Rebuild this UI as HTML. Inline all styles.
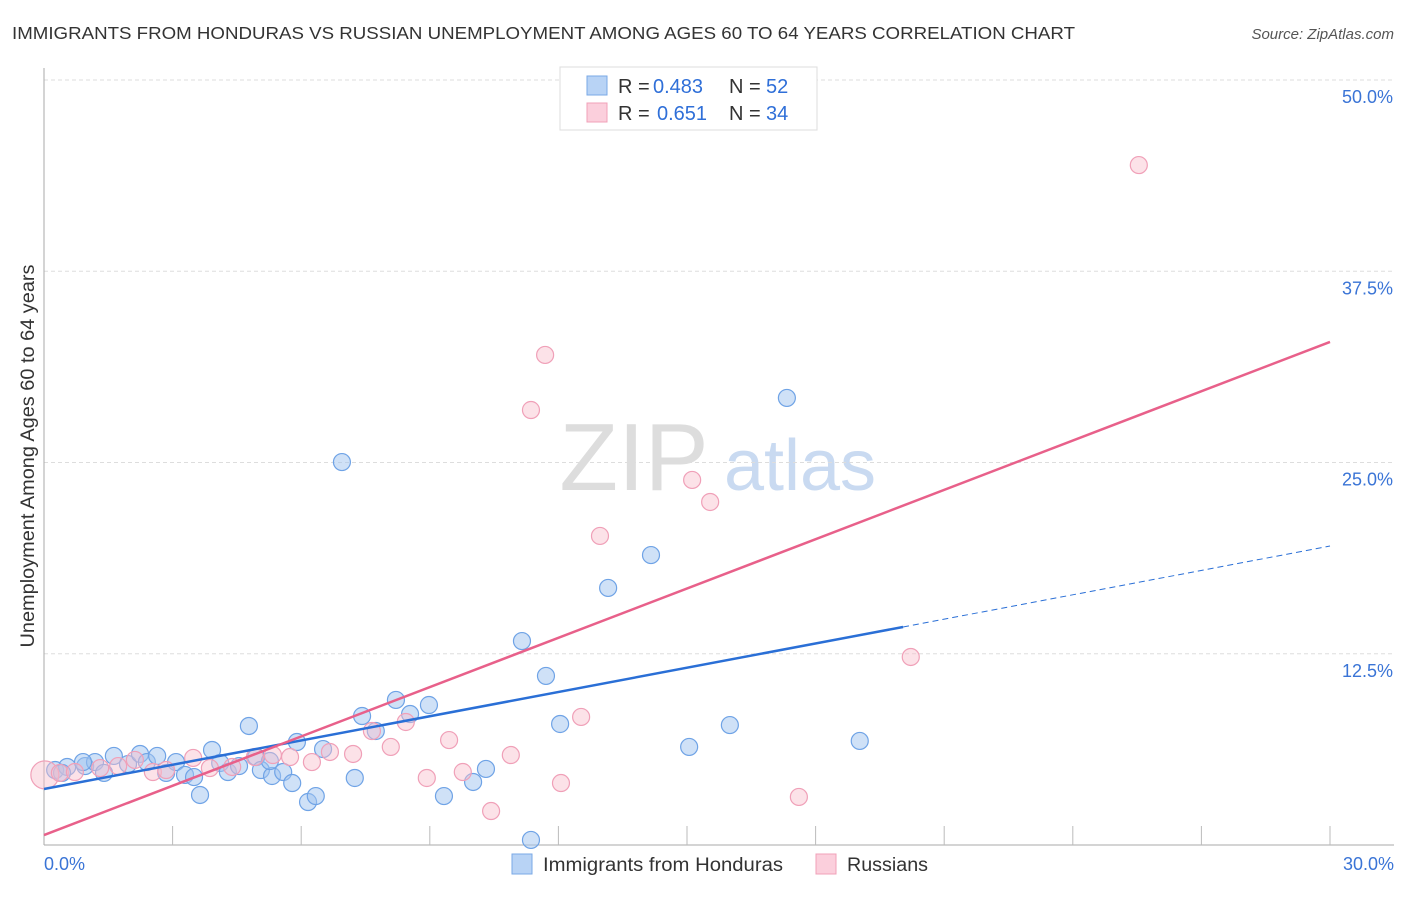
<!DOCTYPE html>
<html><head><meta charset="utf-8"><style>
body{margin:0;background:#fff;font-family:"Liberation Sans",sans-serif;}
svg text{font-family:"Liberation Sans",sans-serif;}
</style></head><body>
<svg id="chart" width="1406" height="892" xmlns="http://www.w3.org/2000/svg">
<text x="12" y="39" font-size="17.5" fill="#333" textLength="1063" lengthAdjust="spacingAndGlyphs">IMMIGRANTS FROM HONDURAS VS RUSSIAN UNEMPLOYMENT AMONG AGES 60 TO 64 YEARS CORRELATION CHART</text>
<text x="1394" y="39" font-size="15" fill="#555" text-anchor="end" font-style="italic">Source: ZipAtlas.com</text>
<text transform="translate(34,456) rotate(-90)" font-size="19" fill="#333" text-anchor="middle" textLength="383" lengthAdjust="spacingAndGlyphs">Unemployment Among Ages 60 to 64 years</text>
<g>
<text x="634" y="490" font-size="96" fill="#ddd" font-family="Liberation Serif" text-anchor="middle">ZIP</text>
<text x="800" y="490" font-size="72" fill="#c9daf1" text-anchor="middle">atlas</text>
</g>
<g id="grid"></g><g id="axes"></g><g id="pts"></g><g id="lines"></g>
<g>
<rect x="560" y="67" width="257" height="63" fill="#fff" stroke="#ddd"/>
<rect x="587" y="76" width="20" height="19" fill="#b8d3f5" stroke="#7aa8e6"/>
<rect x="587" y="103" width="20" height="19" fill="#fbcfdc" stroke="#f0a0b8"/>
<text x="618" y="93" font-size="20" fill="#333">R =</text><text x="653" y="93" font-size="20" fill="#2f6fd8">0.483</text>
<text x="729" y="93" font-size="20" fill="#333">N =</text><text x="766" y="93" font-size="20" fill="#2f6fd8">52</text>
<text x="618" y="120" font-size="20" fill="#333">R =</text><text x="657" y="120" font-size="20" fill="#2f6fd8">0.651</text>
<text x="729" y="120" font-size="20" fill="#333">N =</text><text x="766" y="120" font-size="20" fill="#2f6fd8">34</text>
</g>
<g>
<rect x="512" y="854" width="20" height="20" fill="#b8d3f5" stroke="#7aa8e6"/>
<text x="543" y="871" font-size="19" fill="#333" textLength="240" lengthAdjust="spacingAndGlyphs">Immigrants from Honduras</text>
<rect x="816" y="854" width="20" height="20" fill="#fbcfdc" stroke="#f0a0b8"/>
<text x="847" y="871" font-size="19" fill="#333" textLength="81" lengthAdjust="spacingAndGlyphs">Russians</text>
</g>
</svg>
<script>
const yTicks=[12.5,25,37.5,50];
const yTickLabels=["12.5%","25.0%","37.5%","50.0%"];
const xTickLabels=["0.0%","30.0%"];
const blueX=[0.26,0.54,0.96,1.19,1.40,1.63,1.96,2.24,2.40,2.64,2.85,3.08,3.29,3.50,3.64,3.92,4.11,4.29,4.55,4.78,4.95,5.06,5.32,5.58,5.79,5.90,6.16,6.34,6.51,6.95,7.25,7.42,7.74,8.21,8.54,8.98,9.33,10.01,10.31,11.15,11.36,11.71,12.04,13.16,14.16,15.05,16.00,17.33,19.03,0.91,0.42,5.27];
const blueY=[4.90,5.10,5.16,5.42,4.71,5.82,5.29,5.95,5.42,5.82,4.71,5.42,4.58,4.44,3.27,6.21,5.36,4.77,5.16,7.78,5.75,4.90,4.51,4.77,4.05,6.73,2.81,3.20,6.27,25.03,4.38,8.43,7.45,9.48,8.56,9.15,3.20,4.12,4.97,13.33,0.33,11.05,7.91,16.80,18.95,6.41,7.84,29.22,6.80,5.42,4.71,5.49];
const pinkX=[0.02,0.37,0.72,1.31,1.73,2.12,2.54,2.85,3.48,3.87,4.39,4.92,5.34,5.74,6.25,6.67,7.21,7.65,8.09,8.44,8.93,9.45,9.77,10.43,10.89,11.36,11.69,12.06,12.53,12.97,15.12,15.54,17.61,20.22,25.54];
const pinkY=[4.58,4.71,4.77,5.03,5.16,5.56,4.77,4.90,5.69,5.03,5.10,5.75,5.88,5.75,5.42,6.08,5.95,7.45,6.41,8.04,4.38,6.86,4.77,2.22,5.88,28.43,32.03,4.05,8.37,20.20,23.86,22.42,3.14,12.29,44.44];
const blueTrend=[3.66,14.25,19.54];
const blueTrendX=[0,20.04,30];
const pinkTrend=[0.65,32.88];
const pinkTrendX=[0,30];
const NS="http://www.w3.org/2000/svg";
const X=v=>44+v/30*1286, Y=v=>845-v/50*765;
function mk(t,a,p){const e=document.createElementNS(NS,t);for(const k in a)e.setAttribute(k,a[k]);document.getElementById(p).appendChild(e);return e;}
yTicks.forEach((t,i)=>{
 let l=mk('line',{x1:44,x2:1394,y1:Y(t),y2:Y(t),stroke:'#ddd','stroke-dasharray':'4,3'},'grid');
 
 
 let tx=mk('text',{x:1393,y:Y(t)+23,'font-size':18,fill:'#3a74d6','text-anchor':'end'},'grid');tx.textContent=yTickLabels[i];
 
 
});
let ax=mk('line',{x1:44,x2:44,y1:68,y2:845,stroke:'#aaa'},'axes');


let bx=mk('line',{x1:44,x2:1394,y1:845,y2:845,stroke:'#aaa'},'axes');


for(let i=1;i<=10;i++){let t=mk('line',{x1:X(i*3),x2:X(i*3),y1:826,y2:845,stroke:'#bbb'},'axes');
 
 }
[[0,'start',44],[30,'end',1394]].forEach((d,i)=>{let t=mk('text',{x:d[2],y:870,'font-size':18,fill:'#3a74d6','text-anchor':d[1]},'axes');t.textContent=xTickLabels[i];
 
 });
blueX.forEach((x,i)=>{let c=mk('circle',{cx:X(x),cy:Y(blueY[i]),r:8.5,fill:'rgba(160,196,240,0.5)',stroke:'#6fa3e6','stroke-width':1.2},'pts');
 
 });
pinkX.forEach((x,i)=>{let c=mk('circle',{cx:X(x),cy:Y(pinkY[i]),r:i==0?14:8.5,fill:'rgba(248,190,205,0.45)',stroke:'#f0a0b8','stroke-width':1.2},'pts');
 
 });
let bl=mk('line',{x1:X(blueTrendX[0]),y1:Y(blueTrend[0]),x2:X(blueTrendX[1]),y2:Y(blueTrend[1]),stroke:'#2a6fd6','stroke-width':2.5},'lines');


let bd=mk('line',{x1:X(blueTrendX[1]),y1:Y(blueTrend[1]),x2:X(blueTrendX[2]),y2:Y(blueTrend[2]),stroke:'#2a6fd6','stroke-width':1,'stroke-dasharray':'6,4'},'lines');


let pl=mk('line',{x1:X(pinkTrendX[0]),y1:Y(pinkTrend[0]),x2:X(pinkTrendX[1]),y2:Y(pinkTrend[1]),stroke:'#e8608a','stroke-width':2.5},'lines');


</script>
</body></html>
